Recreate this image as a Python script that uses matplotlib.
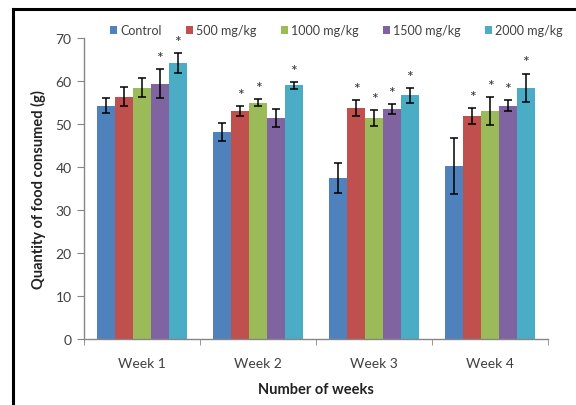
import numpy as np
import matplotlib
matplotlib.use("Agg")
import matplotlib.pyplot as plt
from matplotlib.lines import Line2D

weeks = ["Week 1", "Week 2", "Week 3", "Week 4"]
groups = ["Control", "500 mg/kg", "1000 mg/kg", "1500 mg/kg", "2000 mg/kg"]
means = {
    "Control":    [54.3, 48.1, 37.4, 40.2],
    "500 mg/kg":  [56.4, 53.1, 53.8, 51.9],
    "1000 mg/kg": [58.5, 55.0, 51.4, 53.1],
    "1500 mg/kg": [59.4, 51.4, 53.5, 54.3],
    "2000 mg/kg": [64.2, 59.1, 56.7, 58.5],
}
errors = {
    "Control":    [1.7, 2.1, 3.5, 6.5],
    "500 mg/kg":  [2.2, 1.1, 1.9, 1.8],
    "1000 mg/kg": [2.2, 0.8, 1.8, 3.2],
    "1500 mg/kg": [3.4, 2.1, 1.1, 1.3],
    "2000 mg/kg": [2.3, 0.8, 1.7, 3.3],
}
signif = {
    "Control":    [False, False, False, False],
    "500 mg/kg":  [False, True, True, True],
    "1000 mg/kg": [False, True, True, True],
    "1500 mg/kg": [True, False, True, True],
    "2000 mg/kg": [True, True, True, True],
}
colors = ["#4F81BD", "#C0504D", "#9BBB59", "#8064A2", "#4BACC6"]

plt.rcParams['font.family'] = ['Lato', 'DejaVu Sans']
W, H = 576, 406
fig = plt.figure(figsize=(W / 100, H / 100), dpi=100)
ax = fig.add_axes([84 / W, 1 - 340 / H, (548 - 84) / W, (340 - 39.3) / H])

n = len(groups)
bw = 1.0 / (n + 1.5)
x = np.arange(len(weeks))
for i, g in enumerate(groups):
    xs = x + (i - (n - 1) / 2) * bw
    ax.bar(xs, means[g], width=bw, color=colors[i], label=g, zorder=2)
    ax.errorbar(xs, means[g], yerr=errors[g], fmt='none', ecolor='black',
                elinewidth=1.1, capsize=3, capthick=1.1, zorder=3)
    for xi, m, e, s in zip(xs, means[g], errors[g], signif[g]):
        if s:
            ax.annotate("*", (xi, m + e), xytext=(0, 3), textcoords='offset points',
                        ha='center', va='bottom', fontsize=11.5, color='#333333')

ax.set_xlim(-0.5, len(weeks) - 0.5)
ax.set_ylim(0, 70)
ax.set_yticks(range(0, 71, 10))
ax.set_xticks(x)
ax.set_xticklabels(weeks)
ax.set_xticks(np.arange(-0.5, len(weeks), 1.0), minor=True)
ax.tick_params(axis='x', which='major', length=0, pad=13, labelsize=10, labelcolor='#404040')
ax.tick_params(axis='x', which='minor', length=4, color='#868686', direction='out')
ax.tick_params(axis='y', length=5, color='#868686', labelsize=10, labelcolor='#404040', pad=4)
for side in ['top', 'right']:
    ax.spines[side].set_visible(False)
for side in ['left', 'bottom']:
    ax.spines[side].set_color('#868686')
    ax.spines[side].set_linewidth(1.0)

ax.set_ylabel("Quantity of food consumed (g)", fontsize=10.5, fontweight='bold', color='#222222', labelpad=7)
ax.set_xlabel("Number of weeks", fontsize=10.5, fontweight='bold', color='#222222', labelpad=9)

leg = fig.legend(loc='center', bbox_to_anchor=(0.584, 1 - 31 / H), ncol=5, frameon=False,
                 fontsize=9, handlelength=0.6, handleheight=0.6, handletextpad=0.25,
                 columnspacing=1.9, labelcolor='#404040')

fig.add_artist(Line2D([13 / W, 1.0], [1 - 10 / H, 1 - 10 / H], color='black', lw=2.2,
                      transform=fig.transFigure))
fig.add_artist(Line2D([13 / W, 13 / W], [0, 1 - 10 / H], color='black', lw=2.2,
                      transform=fig.transFigure))

fig.savefig("out.png", dpi=100)
